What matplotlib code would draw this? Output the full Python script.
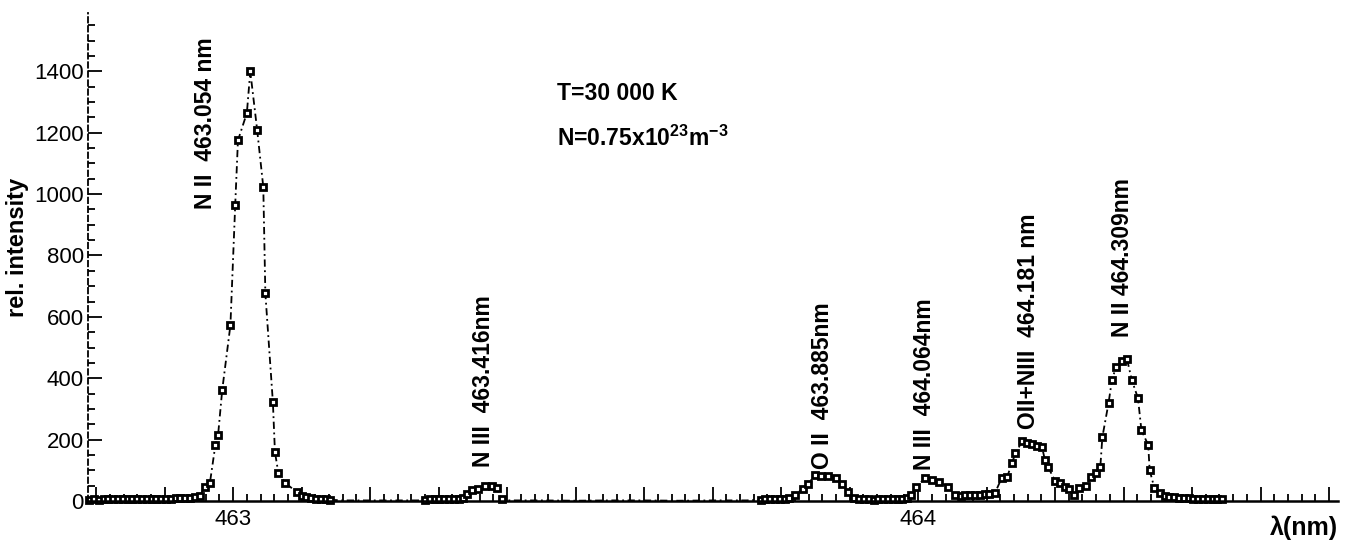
import numpy as np
import matplotlib.pyplot as plt
from matplotlib.ticker import MultipleLocator, FuncFormatter

plt.rcParams['font.family'] = ['Liberation Sans', 'DejaVu Sans']
plt.rcParams['mathtext.fontset'] = 'custom'
plt.rcParams['mathtext.rm'] = 'Liberation Sans:bold'
plt.rcParams['mathtext.it'] = 'Liberation Sans:bold'
plt.rcParams['mathtext.bf'] = 'Liberation Sans:bold'

# spectrum pieces, wavelength in nm and relative intensity
base_left_wl = [462.79, 462.797, 462.804, 462.811, 462.818, 462.825, 462.832, 462.839,
                462.846, 462.853, 462.86, 462.867, 462.874, 462.881, 462.888, 462.895,
                462.902, 462.909, 462.916, 462.923, 462.93, 462.937, 462.944, 462.951]
base_left_int = [4, 5, 4, 5, 6, 5, 5, 6, 5, 6, 7, 6, 6, 7, 6, 7, 8, 8, 9, 9, 10, 11,
                 13, 16]

nii_a_wl = [462.959, 462.966, 462.974, 462.978, 462.984, 462.996, 463.003, 463.007,
            463.020, 463.025, 463.035, 463.044, 463.047, 463.058, 463.061, 463.066,
            463.076, 463.093, 463.100, 463.107, 463.114, 463.121, 463.128, 463.135,
            463.142]
nii_a_int = [46, 58, 182, 215, 361, 573, 964, 1175, 1264, 1400, 1210, 1023, 677,
             322, 160, 91, 59, 29, 18, 12, 9, 7, 6, 5, 4]

gap1_wl = [463.16, 463.20, 463.24, 463.27]
gap1_int = [2, 2, 2, 2]

niii_a_wl = [463.28, 463.287, 463.294, 463.301, 463.308, 463.315, 463.322, 463.329,
             463.336, 463.342, 463.349, 463.358, 463.368, 463.378, 463.385, 463.392]
niii_a_int = [4, 5, 5, 5, 5, 6, 6, 7, 10, 22, 35, 40, 48, 50, 42, 6]

gap2_wl = [463.40, 463.45, 463.50, 463.55, 463.60, 463.65, 463.70, 463.75]
gap2_int = [2, 2, 1, 2, 2, 1, 2, 2]

oii_wl = [463.77, 463.777, 463.784, 463.791, 463.798, 463.805, 463.812, 463.820,
          463.832, 463.839, 463.850, 463.858, 463.869, 463.880, 463.889, 463.898,
          463.907, 463.914, 463.921, 463.928, 463.935, 463.942, 463.949, 463.956,
          463.963, 463.970, 463.977, 463.984]
oii_int = [4, 5, 5, 5, 6, 7, 9, 20, 40, 55, 85, 82, 80, 75, 55, 30, 10, 6, 5, 5, 4,
           5, 5, 6, 6, 6, 7, 9]

niii_b_wl = [463.990, 463.997, 464.010, 464.020, 464.031, 464.044, 464.054, 464.062,
             464.069, 464.076, 464.083, 464.090, 464.097, 464.104, 464.112]
niii_b_int = [20, 45, 75, 68, 62, 45, 20, 18, 19, 20, 20, 21, 22, 22, 25]

blend_wl = [464.122, 464.130, 464.137, 464.142, 464.152, 464.159, 464.166, 464.173,
            464.181, 464.185, 464.190, 464.200, 464.207, 464.214, 464.220, 464.227]
blend_int = [75, 78, 124, 155, 195, 190, 185, 180, 175, 135, 110, 65, 58, 46, 40, 20]

nii_b_wl = [464.235, 464.245, 464.253, 464.260, 464.266, 464.269, 464.278, 464.283,
            464.289, 464.298, 464.305, 464.312, 464.321, 464.326, 464.336, 464.338,
            464.345, 464.353, 464.36, 464.367, 464.374, 464.381, 464.388, 464.395,
            464.402, 464.409, 464.416, 464.423, 464.43, 464.437, 464.444]
nii_b_int = [42, 48, 78, 90, 110, 208, 319, 394, 437, 455, 462, 394, 335, 231, 182,
             101, 42, 25, 16, 13, 12, 10, 10, 9, 8, 8, 7, 6, 6, 5, 5]

wl = np.array(base_left_wl + nii_a_wl + gap1_wl + niii_a_wl + gap2_wl + oii_wl
              + niii_b_wl + blend_wl + nii_b_wl)
inten = np.array(base_left_int + nii_a_int + gap1_int + niii_a_int + gap2_int + oii_int
                 + niii_b_int + blend_int + nii_b_int)

label_text = ['N II  463.054 nm', 'N III  463.416nm', 'O II  463.885nm',
              'N III  464.064nm', 'OII+NIII  464.181 nm', 'N II 464.309nm']
label_wl = [462.959, 463.365, 463.861, 464.010, 464.161, 464.299]
label_base = [950, 110, 105, 100, 235, 535]

fig = plt.figure(figsize=(13.53, 5.43), dpi=100)
ax = fig.add_axes([0.065, 0.0773, 0.9239, 0.8987])

ax.plot(wl, inten, color='k', lw=1.3, ls=(0, (4, 2, 1, 2)), clip_on=False)
mask = inten > 3
ax.plot(wl[mask], inten[mask], 's', ms=5, mfc='white', mec='k', mew=2.0,
        ls='none', clip_on=False)

for txt, x, y in zip(label_text, label_wl, label_base):
    ax.text(x, y, txt, rotation=90, ha='center', va='bottom', fontsize=16.5,
            fontweight='bold')

ax.text(0.375, 0.836, 'T=30 000 K', transform=ax.transAxes, fontsize=16.5,
        fontweight='bold', va='center')
ax.text(0.375, 0.744, r'N=0.75x10$^{23}$m$^{-3}$', transform=ax.transAxes,
        fontsize=16.5, fontweight='bold', va='center')

ax.set_xlim(462.788, 464.613)
ax.set_ylim(0, 1590)

ax.xaxis.set_major_locator(MultipleLocator(0.1))
ax.xaxis.set_minor_locator(MultipleLocator(0.02))
ax.xaxis.set_major_formatter(FuncFormatter(
    lambda v, p: f'{v:.0f}' if abs(v - round(v)) < 1e-6 else ''))
ax.yaxis.set_major_locator(MultipleLocator(200))
ax.yaxis.set_minor_locator(MultipleLocator(50))

ax.tick_params(which='both', direction='in', width=1.3, labelsize=16)
ax.tick_params(which='major', length=10)
ax.tick_params(which='minor', length=5)
ax.tick_params(axis='x', pad=6)
ax.tick_params(axis='y', pad=3)

for s in ['top', 'right']:
    ax.spines[s].set_visible(False)
ax.spines['left'].set_linestyle((0, (3, 2)))
ax.spines['left'].set_linewidth(1.3)
ax.spines['bottom'].set_linewidth(1.8)

ax.set_ylabel('rel. intensity', fontsize=17, fontweight='bold')
ax.yaxis.set_label_coords(-0.047, 0.52)
ax.text(1.0, -0.055, r'λ(nm)', transform=ax.transAxes, ha='right', va='center',
        fontsize=18, fontweight='bold')

fig.savefig('out.png', dpi=100)
